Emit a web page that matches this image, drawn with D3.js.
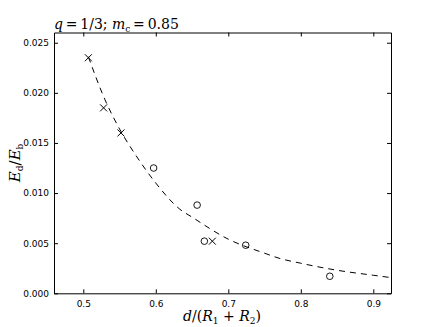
<!DOCTYPE html>
<head>
<meta charset="utf-8">
<style>
body { margin: 0; background: #fff; }
.axis text { font: 9px "DejaVu Sans", sans-serif; fill: #000; }
.axis path, .axis line { stroke: #000; stroke-width: 1px; }
.math { font-family: "DejaVu Serif", serif; fill: #000; }
</style>
</head>
<body>
<svg width="436" height="327"></svg>
<script src="https://cdn.jsdelivr.net/npm/d3@7"></script>
<script>

// measured points
var crossX = [0.507, 0.528, 0.552, 0.678];
var crossY = [0.0235, 0.0185, 0.0160, 0.0052];
var circleX = [0.597, 0.657, 0.667, 0.724, 0.840];
var circleY = [0.0125, 0.0088, 0.0052, 0.0048, 0.0017];

// dashed fit curve
var fitX = [0.507, 0.53, 0.55, 0.574, 0.60, 0.633, 0.65, 0.70, 0.75, 0.77, 0.80, 0.85, 0.90, 0.925];
var fitY = [0.0236, 0.0193, 0.0164, 0.0136, 0.0110, 0.0084, 0.0076, 0.0054, 0.0040, 0.0035, 0.0030, 0.0023, 0.0018, 0.00156];

var xTicks = [0.5, 0.6, 0.7, 0.8, 0.9];
var yTicks = [0, 0.005, 0.010, 0.015, 0.020, 0.025];

var svg = d3.select("svg"),
    mLeft = 54, mRight = 391, mTop = 32.5, mBottom = 293.3;

var x = d3.scaleLinear().domain([0.4596, 0.9244]).range([mLeft, mRight]);
var y = d3.scaleLinear().domain([0, 0.02602]).range([mBottom, mTop]);

svg.append("g").attr("class", "axis")
    .attr("transform", "translate(0," + mBottom + ")")
    .call(d3.axisBottom(x).tickValues(xTicks).tickSize(-4).tickPadding(7).tickSizeOuter(0).tickFormat(d3.format(".1f")));
svg.append("g").attr("class", "axis")
    .attr("transform", "translate(0," + mTop + ")")
    .call(d3.axisTop(x).tickValues(xTicks).tickSize(-4).tickSizeOuter(0).tickFormat(""));
svg.append("g").attr("class", "axis")
    .attr("transform", "translate(" + mLeft + ",0)")
    .call(d3.axisLeft(y).tickValues(yTicks).tickSize(-4).tickPadding(5).tickSizeOuter(0).tickFormat(d3.format(".3f")));
svg.append("g").attr("class", "axis")
    .attr("transform", "translate(" + mRight + ",0)")
    .call(d3.axisRight(y).tickValues(yTicks).tickSize(-4).tickSizeOuter(0).tickFormat(""));

var line = d3.line()
    .x(function(d) { return x(d[0]); })
    .y(function(d) { return y(d[1]); })
    .curve(d3.curveMonotoneX);

svg.append("path")
    .datum(d3.zip(fitX, fitY))
    .attr("d", line)
    .attr("fill", "none")
    .attr("stroke", "#000")
    .attr("stroke-width", 1)
    .attr("stroke-dasharray", "6,5");

svg.selectAll(".circ")
    .data(d3.zip(circleX, circleY))
  .enter().append("circle")
    .attr("cx", function(d) { return x(d[0]); })
    .attr("cy", function(d) { return y(d[1]); })
    .attr("r", 3.3)
    .attr("fill", "none")
    .attr("stroke", "#000")
    .attr("stroke-width", 0.9);

var s = 3.5;
svg.selectAll(".cross")
    .data(d3.zip(crossX, crossY))
  .enter().append("path")
    .attr("d", function(d) {
      var cx = x(d[0]), cy = y(d[1]);
      return "M" + (cx - s) + "," + (cy - s) + "L" + (cx + s) + "," + (cy + s)
           + "M" + (cx - s) + "," + (cy + s) + "L" + (cx + s) + "," + (cy - s);
    })
    .attr("stroke", "#000")
    .attr("stroke-width", 1);

// title
var t = svg.append("text").attr("class", "math").attr("x", 54).attr("y", 29).attr("font-size", 14);
t.append("tspan").attr("font-style", "italic").text("q");
t.append("tspan").text("\u2009=\u20091/3; ");
t.append("tspan").attr("font-style", "italic").text("m");
t.append("tspan").attr("font-size", 9).attr("dy", 3).text("c");
t.append("tspan").attr("dy", -3).text("\u2009=\u20090.85");

// x label
var xl = svg.append("text").attr("class", "math").attr("x", 222).attr("y", 321)
    .attr("text-anchor", "middle").attr("font-size", 14);
xl.append("tspan").attr("font-style", "italic").text("d");
xl.append("tspan").text("/(");
xl.append("tspan").attr("font-style", "italic").text("R");
xl.append("tspan").attr("font-size", 9).attr("dy", 3).text("1");
xl.append("tspan").attr("dy", -3).text(" + ");
xl.append("tspan").attr("font-style", "italic").text("R");
xl.append("tspan").attr("font-size", 9).attr("dy", 3).text("2");
xl.append("tspan").attr("dy", -3).text(")");

// y label
var yl = svg.append("text").attr("class", "math")
    .attr("transform", "translate(20," + ((mTop + mBottom) / 2) + ") rotate(-90)")
    .attr("text-anchor", "middle").attr("font-size", 15);
yl.append("tspan").attr("font-style", "italic").text("E");
yl.append("tspan").attr("font-size", 9).attr("dy", 3).text("d");
yl.append("tspan").attr("dy", -3).text("/");
yl.append("tspan").attr("font-style", "italic").text("E");
yl.append("tspan").attr("font-size", 9).attr("dy", 3).text("b");

</script>
</body>
